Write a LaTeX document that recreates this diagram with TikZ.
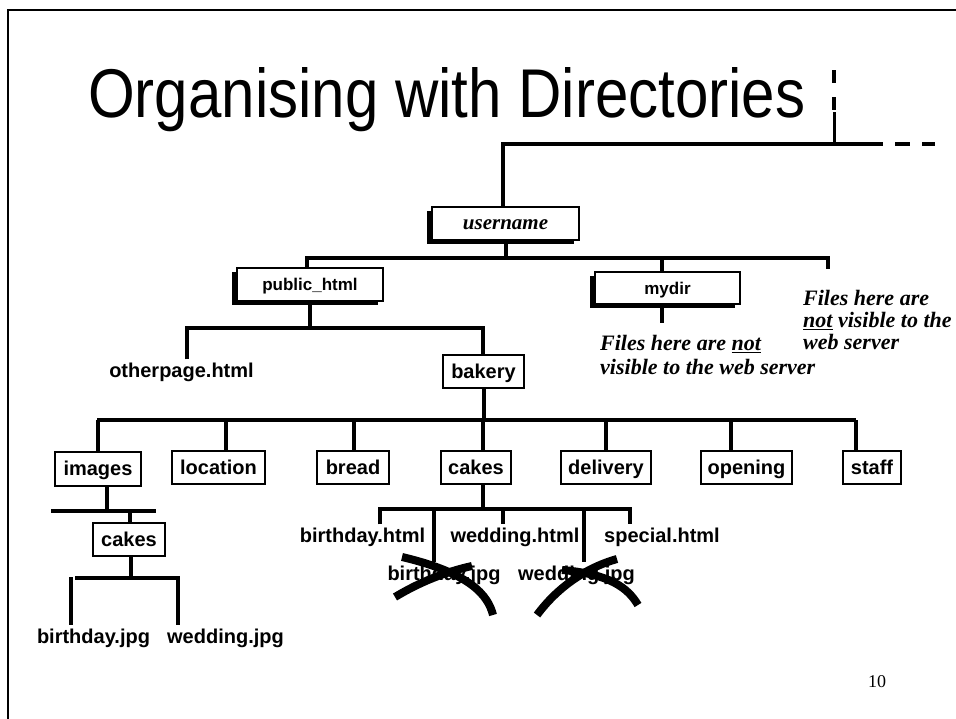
\documentclass[tikz,border=0pt]{standalone}
\usepackage{fontspec}
\setmainfont{Liberation Serif}
\setsansfont{Liberation Sans}
\usetikzlibrary{shadows}

\begin{document}
\begin{tikzpicture}[x=1pt,y=-1pt,
		link/.style={line width=4pt},
		dirbox/.style={draw,line width=1.2pt,fill=white,inner sep=0pt,minimum height=33pt,text height=16pt,text depth=3pt,font=\sffamily\bfseries\fontsize{20}{24}\selectfont},
		topbox/.style={dirbox,drop shadow={shadow xshift=-5pt,shadow yshift=-4pt,fill=black,opacity=1}},
		file/.style={inner sep=3pt,text height=15pt,text depth=4pt,font=\sffamily\bfseries\fontsize{20}{24}\selectfont},
		note/.style={align=left,inner sep=0pt,anchor=west,font=\rmfamily\bfseries\itshape\fontsize{22}{24}\selectfont},
		cross/.style={line width=8pt}]
		\useasboundingbox (0,0) rectangle (956,719);
		\draw[line width=2pt] (956,10) -- (8,10) -- (8,719);
		\node[anchor=base west,inner sep=0pt,font=\sffamily\fontsize{69}{80}\selectfont] (title) at (88,118) {\scalebox{0.87}[1]{Organising with Directories}};
		
		% top levels
		\node[topbox,minimum width=147pt,font=\rmfamily\bfseries\itshape\fontsize{21}{24}\selectfont] (user) at (505.5,223.5) {username};
		\node[topbox,minimum width=146pt,font=\sffamily\bfseries\fontsize{17}{20}\selectfont] (pub) at (310,284.5) {public\_html};
		\node[topbox,minimum width=145pt,minimum height=32pt,font=\sffamily\bfseries\fontsize{17}{20}\selectfont] (mydir) at (667.5,288) {mydir};
		\node[note] (notemy) at (600,355) {Files here are \underline{not}\\visible to the web server};
		\node[note,font=\rmfamily\bfseries\itshape\fontsize{22}{22}\selectfont] (noteup) at (803,320) {Files here are\\\underline{not} visible to the\\web server};
		
		\node[file] (other) at (181.5,372) {otherpage.html};
		\node[dirbox,minimum width=81pt] (bakery) at (483.5,371.5) {bakery};
		
		% bakery
		\node[dirbox,minimum width=86pt,minimum height=34pt] (images) at (98,469) {images};
		\node[dirbox,minimum width=93pt] (location) at (218.5,467.5) {location};
		\node[dirbox,minimum width=72pt] (bread) at (353,467.5) {bread};
		\node[dirbox,minimum width=70pt] (cakesA) at (476,467.5) {cakes};
		\node[dirbox,minimum width=90pt] (delivery) at (606,467.5) {delivery};
		\node[dirbox,minimum width=91pt] (opening) at (746.5,467.5) {opening};
		\node[dirbox,minimum width=58pt] (staff) at (872,467.5) {staff};
		
		\node[dirbox,minimum width=72pt] (cakesB) at (129,539.5) {cakes};
		\node[file] (bjpgA) at (93.5,638) {birthday.jpg};
		\node[file] (wjpgA) at (225.5,638) {wedding.jpg};
		
		\node[file] (bhtml) at (362.5,537) {birthday.html};
		\node[file] (whtml) at (515,537) {wedding.html};
		\node[file] (shtml) at (662,537) {special.html};
		\node[file] (bjpgB) at (444,575) {birthday.jpg};
		\node[file] (wjpgB) at (576.5,575) {wedding.jpg};
		
		% bars
		\coordinate (top) at (503,144);
		\coordinate (topR) at (834,144);
		\coordinate (topE) at (868,144);
		\coordinate (topU) at (834,112);
		\coordinate (b1L) at (307,258);
		\coordinate (b1M) at (662,258);
		\coordinate (b1R) at (828,258);
		\coordinate (b2L) at (187,328);
		\coordinate (b2R) at (483,328);
		\coordinate (b3L) at (97,420);
		\coordinate (b3R) at (856,420);
		\coordinate (b4L) at (51,511);
		\coordinate (b4R) at (156,511);
		\coordinate (b5L) at (75,578);
		\coordinate (b5R) at (178,578);
		\coordinate (b5S) at (71,577);
		\coordinate (b6L) at (380,509);
		\coordinate (b6A) at (434,509);
		\coordinate (b6B) at (503,509);
		\coordinate (b6C) at (584,509);
		\coordinate (b6R) at (630,509);
		
		\draw[link] (user.north -| top) -- (top) -- (topE);
		\draw[line width=3pt] (topR) -- (topU);
		\draw[line width=4pt,dash pattern=on 15pt off 12pt] (topE) -- +(67,0);
		\draw[line width=4pt,dash pattern=on 13pt off 14pt] ([yshift=2pt]topU) -- +(0,-42);
		
		\draw[link] (user.south) -- (user.south |- b1L);
		\draw[link] (pub.north -| b1L) |- (b1R) -- +(0,11);
		\draw[link] (b1M) -- (b1M |- mydir.north);
		\draw[link] ([xshift=-5.5pt]mydir.south) -- +(0,18);
		
		\draw[link] (pub.south) -- (pub.south |- b2L);
		\draw[link] (b2L |- other.north) |- (b2R) -- (bakery.north -| b2R);
		
		\draw[link] (bakery.south) -- (bakery.south |- b3L);
		\draw[link] (b3L) -- (b3R);
		\draw[link] (images.north) -- (images.north |- b3L);
		\draw[link] ([xshift=7.5pt]location.north) -- ([xshift=7.5pt]location.north |- b3L);
		\draw[link] ([xshift=1pt]bread.north) -- ([xshift=1pt]bread.north |- b3L);
		\draw[link] ([xshift=7pt]cakesA.north) -- ([xshift=7pt]cakesA.north |- b3L);
		\draw[link] (delivery.north) -- (delivery.north |- b3L);
		\draw[link] ([xshift=-15.5pt]opening.north) -- ([xshift=-15.5pt]opening.north |- b3L);
		\draw[link] (b3R) -- (b3R |- staff.north);
		
		% images
		\draw[link] ([xshift=9pt]images.south) -- ([xshift=9pt]images.south |- b4L);
		\draw[link] (b4L) -- (b4R);
		\draw[link] ([xshift=1pt]cakesB.north) -- ([xshift=1pt]cakesB.north |- b4L);
		\draw[link] ([xshift=2pt]cakesB.south) -- ([xshift=2pt]cakesB.south |- b5L);
		\draw[link] (b5L) -- (b5R) -- (b5R |- wjpgA.north);
		\draw[link] (b5S) -- (b5S |- bjpgA.north);
		
		% cakes
		\draw[link] ([xshift=7pt]cakesA.south) -- ([xshift=7pt]cakesA.south |- b6L);
		\draw[link] (bhtml.north -| b6L) -- (b6L) -- (b6R) -- (b6R |- shtml.north);
		\draw[link] (b6A) -- (b6A |- bjpgB.north);
		\draw[link] (b6B) -- (b6B |- whtml.north);
		\draw[link] (b6C) -- (b6C |- wjpgB.north);
		
		\draw[cross] (402,557) .. controls (470,573) and (488,595) .. (493,615);
		\draw[cross] (395,597) .. controls (420,582) and (445,572) .. (472,566);
		\draw[cross] (537,615) .. controls (557,588) and (585,568) .. (617,559);
		\draw[cross] (562,570) .. controls (610,574) and (628,588) .. (638,605);
		
		\node[font=\rmfamily\fontsize{18}{20}\selectfont] (page) at (877,682) {10};
	\end{tikzpicture}
\end{document}
